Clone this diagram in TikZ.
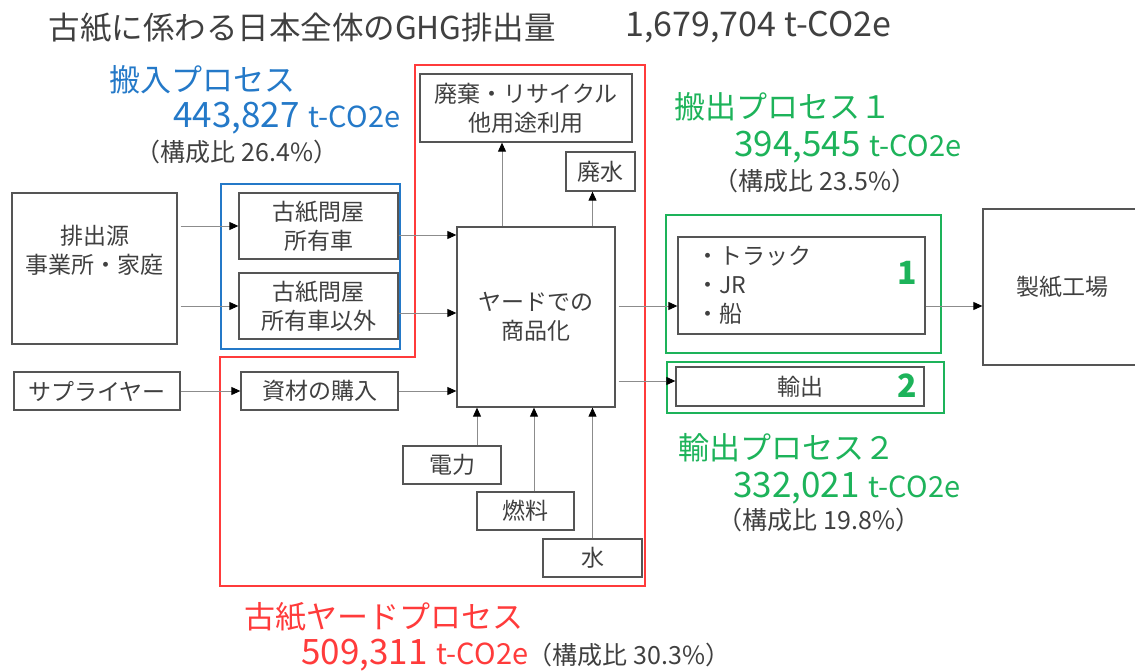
\documentclass[tikz,border=0pt]{standalone}
\usepackage{fontspec}
\setmainfont{Noto Sans CJK JP}
\usetikzlibrary{arrows.meta,calc}

\definecolor{yardred}{HTML}{FF3B3B}
\definecolor{inblue}{HTML}{2479C8}
\definecolor{outgreen}{HTML}{1DB35A}
\definecolor{boxgray}{HTML}{555555}
\definecolor{txtgray}{HTML}{404040}
\definecolor{linegray}{HTML}{8C8C8C}

\newcommand{\titlesz}{\fontsize{31.5}{36}\selectfont}
\newcommand{\totalsz}{\fontsize{34}{38}\selectfont}
\newcommand{\headsz}{\fontsize{31}{36}\selectfont}
\newcommand{\numsz}{\fontsize{35}{40}\selectfont}
\newcommand{\unitsz}{\fontsize{29}{32}\selectfont}
\newcommand{\ratiosz}{\fontsize{25}{28}\selectfont}
\newcommand{\boxsz}{\fontsize{23}{29}\selectfont}
\newcommand{\co}[1]{{\numsz #1}\hspace{9pt}{\unitsz t-CO2e}}
\newcommand{\share}[1]{（構成比\hspace{6pt}#1\%）}

\begin{document}
\begin{tikzpicture}[x=1pt,y=-1pt,
    box/.style={draw=boxgray, line width=1.3pt, text=txtgray, font=\boxsz,
                align=center, inner sep=0pt},
    arr/.style={-{Triangle[length=9pt,width=8pt,color=black]}, draw=linegray,
                line width=0.9pt},
    frame/.style={line width=2pt},
    head/.style={anchor=west, font=\headsz},
    ratio/.style={anchor=west, font=\ratiosz, text=txtgray}]

  \useasboundingbox (0,0) rectangle (1135,671);

  % title
  \node[anchor=west, font=\titlesz, text=txtgray] (title) at (45,28)
       {古紙に係わる日本全体のGHG排出量};
  \node[anchor=west, font=\totalsz, text=txtgray] (total) at (622,27)
       {1,679,704 t-CO2e};

  % boxes
  \node[box, minimum width=165pt, minimum height=151pt] (src) at (94.5,268.5)
       {排出源\\事業所・家庭\\\strut};
  \node[box, minimum width=159pt, minimum height=66pt] (own1) at (318.5,226)
       {古紙問屋\\所有車};
  \node[box, minimum width=159pt, minimum height=66pt] (own2) at (318.5,306)
       {古紙問屋\\所有車以外};
  \node[box, minimum width=166pt, minimum height=38pt] (sup) at (97,391)
       {サプライヤー};
  \node[box, minimum width=157pt, minimum height=38pt] (buy) at (319.5,391)
       {資材の購入};
  \node[box, minimum width=158pt, minimum height=180pt] (yard) at (536,317)
       {ヤードでの\\商品化};
  \node[box, minimum width=212pt, minimum height=68pt] (reuse) at (526,108)
       {廃棄・リサイクル\\他用途利用};
  \node[box, minimum width=69pt, minimum height=39pt] (drain) at (600.5,171.5)
       {廃水};
  \node[box, minimum width=98pt, minimum height=38pt] (elec) at (452,465)
       {電力};
  \node[box, minimum width=97pt, minimum height=38pt] (fuel) at (525.5,511)
       {燃料};
  \node[box, minimum width=99pt, minimum height=38pt] (water) at (592.5,558)
       {水};
  \node[box, minimum width=247pt, minimum height=97pt, text width=211pt,
        align=left] (trans) at (801.5,285.5)
       {・トラック\\・JR\\・船};
  \node[box, minimum width=248pt, minimum height=39pt] (exp) at (800,386.5)
       {輸出};
  \node[box, minimum width=158pt, minimum height=156pt] (mill) at (1062,287)
       {製紙工場};
  \node[font=\fontsize{32}{36}\bfseries, text=outgreen] (n1) at (907,273) {1};
  \node[font=\fontsize{32}{36}\bfseries, text=outgreen] (n2) at (907,386) {2};

  % process frames
  \draw[frame, draw=yardred] (415,65) -| (645,586) -| (220,357) -| cycle;
  \draw[frame, draw=inblue] (221,184) rectangle (400,349);
  \draw[frame, draw=outgreen] (666,215) rectangle (941,353);
  \draw[frame, draw=outgreen] (667,362) rectangle (944,413);

  % flows
  \draw[arr] ([xshift=3pt]src.east |- own1.west) -- (own1.west);
  \draw[arr] ([xshift=3pt]src.east |- own2.west) -- (own2.west);
  \draw[arr] ([yshift=-9pt]own1.east) -- ([yshift=-9pt]own1.east -| yard.west);
  \draw[arr] ([yshift=-7pt]own2.east) -- ([yshift=-7pt]own2.east -| yard.west);
  \draw[arr] (sup) -- (buy);
  \draw[arr] (buy.east) -- (buy.east -| yard.west);
  \draw[arr] ([xshift=-24pt]reuse.south |- yard.north) -- ([xshift=-24pt]reuse.south);
  \draw[arr] ([xshift=-8pt]drain.south |- yard.north) -- ([xshift=-8pt]drain.south);
  \draw[arr] ([xshift=25pt]elec.north) -- ([xshift=25pt]elec.north |- yard.south);
  \draw[arr] ([xshift=8.5pt]fuel.north) -- ([xshift=8.5pt]fuel.north |- yard.south);
  \draw[arr] (water.north) -- (water.north |- yard.south);
  \draw[arr] ([yshift=-20.5pt,xshift=3pt]trans.west -| yard.east) -- ([yshift=-20.5pt]trans.west);
  \draw[arr] ([yshift=-20.5pt]trans.east) -- ([yshift=-20.5pt]trans.east -| mill.west);
  \draw[arr] ([yshift=5.5pt,xshift=3pt]exp.west -| yard.east) -- ([yshift=5.5pt]exp.west);

  % process labels
  \node[head, text=inblue] (inhead) at (106,80) {搬入プロセス};
  \node[anchor=west, text=inblue] (inval) at (170,118) {\co{443,827}};
  \node[ratio] (inratio) at (132,152) {\share{26.4}};

  \node[head, text=outgreen] (out1head) at (671,107) {搬出プロセス１};
  \node[anchor=west, text=outgreen] (out1val) at (731,147) {\co{394,545}};
  \node[ratio] (out1ratio) at (710,181) {\share{23.5}};

  \node[head, text=outgreen] (out2head) at (675,448) {輸出プロセス２};
  \node[anchor=west, text=outgreen] (out2val) at (730,488) {\co{332,021}};
  \node[ratio] (out2ratio) at (714,520) {\share{19.8}};

  \node[head, text=yardred] (yardhead) at (241,617) {古紙ヤードプロセス};
  \node[anchor=west, text=yardred] (yardval) at (298,655) {\co{509,311}};
  \node[ratio] (yardratio) at (524,655) {\share{30.3}};
\end{tikzpicture}
\end{document}
